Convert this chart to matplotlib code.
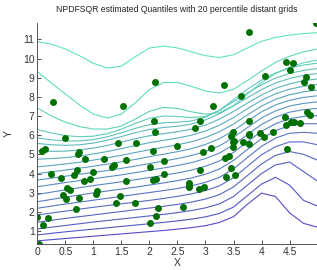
import numpy as np
import matplotlib.pyplot as plt

plt.rcParams['font.family'] = ['Liberation Sans', 'DejaVu Sans']

# observed points
pts_x = [0.27, 1.53, 2.09, 2.08, 2.10, 2.82, 2.91, 3.13, 3.33, 3.49, 3.63, 3.78, 3.78, 3.77, 3.97,
         4.07, 4.21, 4.43, 4.56, 4.51, 4.79, 4.76, 4.89, 4.98, 4.42, 4.43, 4.52, 4.58, 4.68, 4.81,
         4.86, 0.49, 0.08, 0.13, 0.24, 0.00, 0.10, 0.19, 0.02, 0.42, 0.46, 0.51, 0.52, 0.58, 0.69,
         0.72, 0.74, 0.70, 0.66, 0.74, 0.85, 0.83, 0.93, 1.00, 1.04, 1.07, 1.19, 1.33, 1.36, 1.44,
         1.58, 1.58, 1.48, 1.41, 1.74, 1.76, 2.01, 2.06, 2.07, 2.11, 2.26, 2.26, 2.16, 2.12, 2.01,
         2.49, 2.59, 2.70, 2.70, 2.71, 2.90, 2.88, 2.97, 2.96, 3.10, 3.35, 3.42, 3.37, 3.46, 3.53,
         3.49, 3.49, 3.51, 3.46, 3.67, 3.78, 3.77, 4.04, 4.45]
pts_y = [7.74, 7.54, 8.78, 6.72, 6.17, 6.39, 6.72, 7.52, 8.64, 6.19, 8.02, 11.38, 6.72, 6.06, 6.10,
         9.08, 6.19, 9.82, 9.77, 9.41, 9.06, 8.78, 8.51, 11.87, 6.95, 6.55, 6.67, 6.71, 6.65, 7.19,
         7.07, 5.88, 5.15, 5.27, 3.99, 1.75, 1.32, 1.70, 0.32, 3.75, 2.88, 2.67, 3.23, 3.14, 2.14,
         5.01, 5.13, 4.20, 3.92, 2.74, 4.77, 3.59, 3.71, 4.06, 2.92, 3.11, 4.75, 4.32, 4.44, 5.58,
         4.73, 3.59, 2.83, 2.46, 2.48, 5.58, 4.32, 5.20, 3.68, 3.73, 4.67, 3.99, 2.22, 1.79, 1.41,
         5.46, 2.24, 3.49, 3.35, 3.30, 4.20, 3.18, 3.30, 5.10, 5.34, 4.82, 4.91, 3.83, 4.30, 3.92,
         5.39, 5.62, 5.72, 5.95, 5.65, 5.53, 6.00, 5.90, 5.29]

# quantile curves, sampled on grid_x (bottom to top)
grid_x = [0, 0.25, 0.5, 0.75, 1, 1.25, 1.5, 1.75, 2, 2.25, 2.5, 2.75, 3, 3.25, 3.5, 3.75, 4,
          4.25, 4.5, 4.75, 5]
c1 = [0.49, 0.55, 0.61, 0.67, 0.73, 0.79, 0.85, 0.91, 0.97, 1.03, 1.10, 1.18, 1.28, 1.45, 1.75, 2.40, 2.98, 2.80, 1.95, 1.40, 1.20]
c2 = [0.80, 0.88, 0.96, 1.03, 1.10, 1.17, 1.24, 1.31, 1.38, 1.45, 1.53, 1.62, 1.74, 1.92, 2.25, 2.85, 3.45, 3.80, 3.40, 2.60, 2.30]
c3 = [1.11, 1.20, 1.29, 1.38, 1.47, 1.55, 1.63, 1.71, 1.79, 1.87, 1.96, 2.07, 2.21, 2.42, 2.80, 3.40, 4.00, 4.45, 4.60, 4.10, 3.60]
c4 = [1.46, 1.56, 1.66, 1.75, 1.84, 1.93, 2.02, 2.11, 2.20, 2.29, 2.39, 2.51, 2.67, 2.90, 3.30, 3.90, 4.50, 4.95, 5.15, 5.00, 4.70]
c5 = [1.84, 1.94, 2.04, 2.14, 2.24, 2.33, 2.42, 2.51, 2.60, 2.70, 2.81, 2.94, 3.11, 3.36, 3.78, 4.38, 4.98, 5.40, 5.65, 5.65, 5.50]
c6 = [2.19, 2.30, 2.41, 2.51, 2.61, 2.71, 2.81, 2.91, 3.01, 3.11, 3.22, 3.36, 3.54, 3.80, 4.24, 4.84, 5.42, 5.85, 6.10, 6.15, 6.10]
c7 = [2.53, 2.65, 2.77, 2.88, 2.99, 3.09, 3.19, 3.29, 3.40, 3.51, 3.63, 3.77, 3.96, 4.24, 4.68, 5.26, 5.82, 6.24, 6.50, 6.60, 6.60]
c8 = [2.91, 3.03, 3.15, 3.26, 3.37, 3.47, 3.57, 3.68, 3.79, 3.91, 4.03, 4.18, 4.38, 4.66, 5.10, 5.66, 6.20, 6.60, 6.86, 6.98, 7.02]
c9 = [3.31, 3.42, 3.53, 3.63, 3.73, 3.83, 3.93, 4.05, 4.17, 4.29, 4.42, 4.57, 4.78, 5.07, 5.50, 6.04, 6.56, 6.94, 7.20, 7.33, 7.40]
c10 = [3.66, 3.76, 3.86, 3.96, 4.06, 4.16, 4.27, 4.39, 4.52, 4.65, 4.78, 4.94, 5.15, 5.45, 5.88, 6.40, 6.90, 7.27, 7.52, 7.66, 7.74]
c11 = [4.00, 4.09, 4.18, 4.28, 4.38, 4.49, 4.61, 4.74, 4.88, 5.01, 5.14, 5.30, 5.52, 5.82, 6.24, 6.74, 7.22, 7.58, 7.82, 7.97, 8.06]
c12 = [4.35, 4.42, 4.50, 4.59, 4.70, 4.82, 4.95, 5.10, 5.24, 5.37, 5.50, 5.66, 5.88, 6.18, 6.58, 7.06, 7.52, 7.87, 8.11, 8.26, 8.36]
c13 = [4.75, 4.78, 4.83, 4.91, 5.02, 5.15, 5.30, 5.46, 5.61, 5.73, 5.85, 6.00, 6.22, 6.52, 6.92, 7.38, 7.82, 8.16, 8.40, 8.55, 8.65]
c14 = [5.19, 5.16, 5.17, 5.23, 5.33, 5.47, 5.64, 5.82, 5.97, 6.08, 6.18, 6.32, 6.53, 6.84, 7.24, 7.68, 8.10, 8.44, 8.68, 8.84, 8.94]
c15 = [5.57, 5.50, 5.47, 5.50, 5.59, 5.74, 5.93, 6.13, 6.30, 6.40, 6.47, 6.58, 6.80, 7.12, 7.53, 7.96, 8.38, 8.72, 8.96, 9.12, 9.22]
c16 = [5.86, 5.76, 5.70, 5.70, 5.77, 5.92, 6.13, 6.36, 6.55, 6.65, 6.68, 6.74, 6.94, 7.30, 7.75, 8.20, 8.63, 8.98, 9.22, 9.38, 9.48]
c17 = [6.29, 6.12, 5.98, 5.92, 5.95, 6.08, 6.32, 6.62, 6.88, 7.00, 6.98, 6.92, 6.98, 7.30, 7.85, 8.40, 8.88, 9.25, 9.50, 9.66, 9.76]
c18 = [7.42, 7.00, 6.68, 6.45, 6.32, 6.32, 6.48, 6.85, 7.25, 7.45, 7.40, 7.22, 7.10, 7.18, 7.55, 8.15, 8.75, 9.22, 9.55, 9.78, 9.92]
c19 = [9.32, 8.72, 8.15, 7.58, 7.10, 6.90, 7.10, 7.70, 8.38, 8.75, 8.75, 8.55, 8.30, 8.20, 8.40, 8.85, 9.35, 9.80, 10.12, 10.35, 10.50]
c20 = [10.88, 10.75, 10.50, 10.15, 9.75, 9.50, 9.60, 10.10, 10.55, 10.65, 10.55, 10.35, 10.15, 10.05, 10.20, 10.55, 10.90, 11.10, 11.22, 11.30, 11.35]
curves = [c1, c2, c3, c4, c5, c6, c7, c8, c9, c10, c11, c12, c13, c14, c15, c16, c17, c18, c19, c20]

x_ticks = [0, 0.5, 1, 1.5, 2, 2.5, 3, 3.5, 4, 4.5]
x_ticklabels = ['0', '0.5', '1', '1.5', '2', '2.5', '3', '3.5', '4', '4.5']
y_ticks = [1, 2, 3, 4, 5, 6, 7, 8, 9, 10, 11]

fig = plt.figure(figsize=(3.17, 2.70), dpi=100)
ax = fig.add_axes([0.118, 0.096, 0.882, 0.820])

lo = np.array([0.33, 0.30, 0.78])
hi = np.array([0.38, 0.90, 0.72])
n = len(curves)
for i, cy in enumerate(curves):
    t = i / (n - 1)
    ax.plot(grid_x, cy, color=tuple(lo + (hi - lo) * t), lw=0.8)

ax.plot(pts_x, pts_y, 'o', color='#007000', markersize=5.0, markeredgewidth=0)

ax.set_xlim(0, 4.99)
ax.set_ylim(0.32, 11.87)
ax.set_xticks(x_ticks)
ax.set_xticklabels(x_ticklabels)
ax.set_yticks(y_ticks)
ax.tick_params(direction='in', length=3, width=0.6, labelsize=7.5, colors='#333333', pad=2)
for s in ['top', 'right']:
    ax.spines[s].set_visible(False)
for s in ['left', 'bottom']:
    ax.spines[s].set_color('#555555')
    ax.spines[s].set_linewidth(0.7)

ax.set_xlabel('X', fontsize=7.5, color='#333333', labelpad=1)
ax.set_ylabel('Y', fontsize=7.5, color='#333333')
ax.yaxis.set_label_coords(-0.085, 0.5)
ax.set_title('NPDFSQR estimated Quantiles with 20 percentile distant grids',
             fontsize=6.2, color='#222222', pad=8)

plt.savefig('out.png', dpi=100)
plt.close()
